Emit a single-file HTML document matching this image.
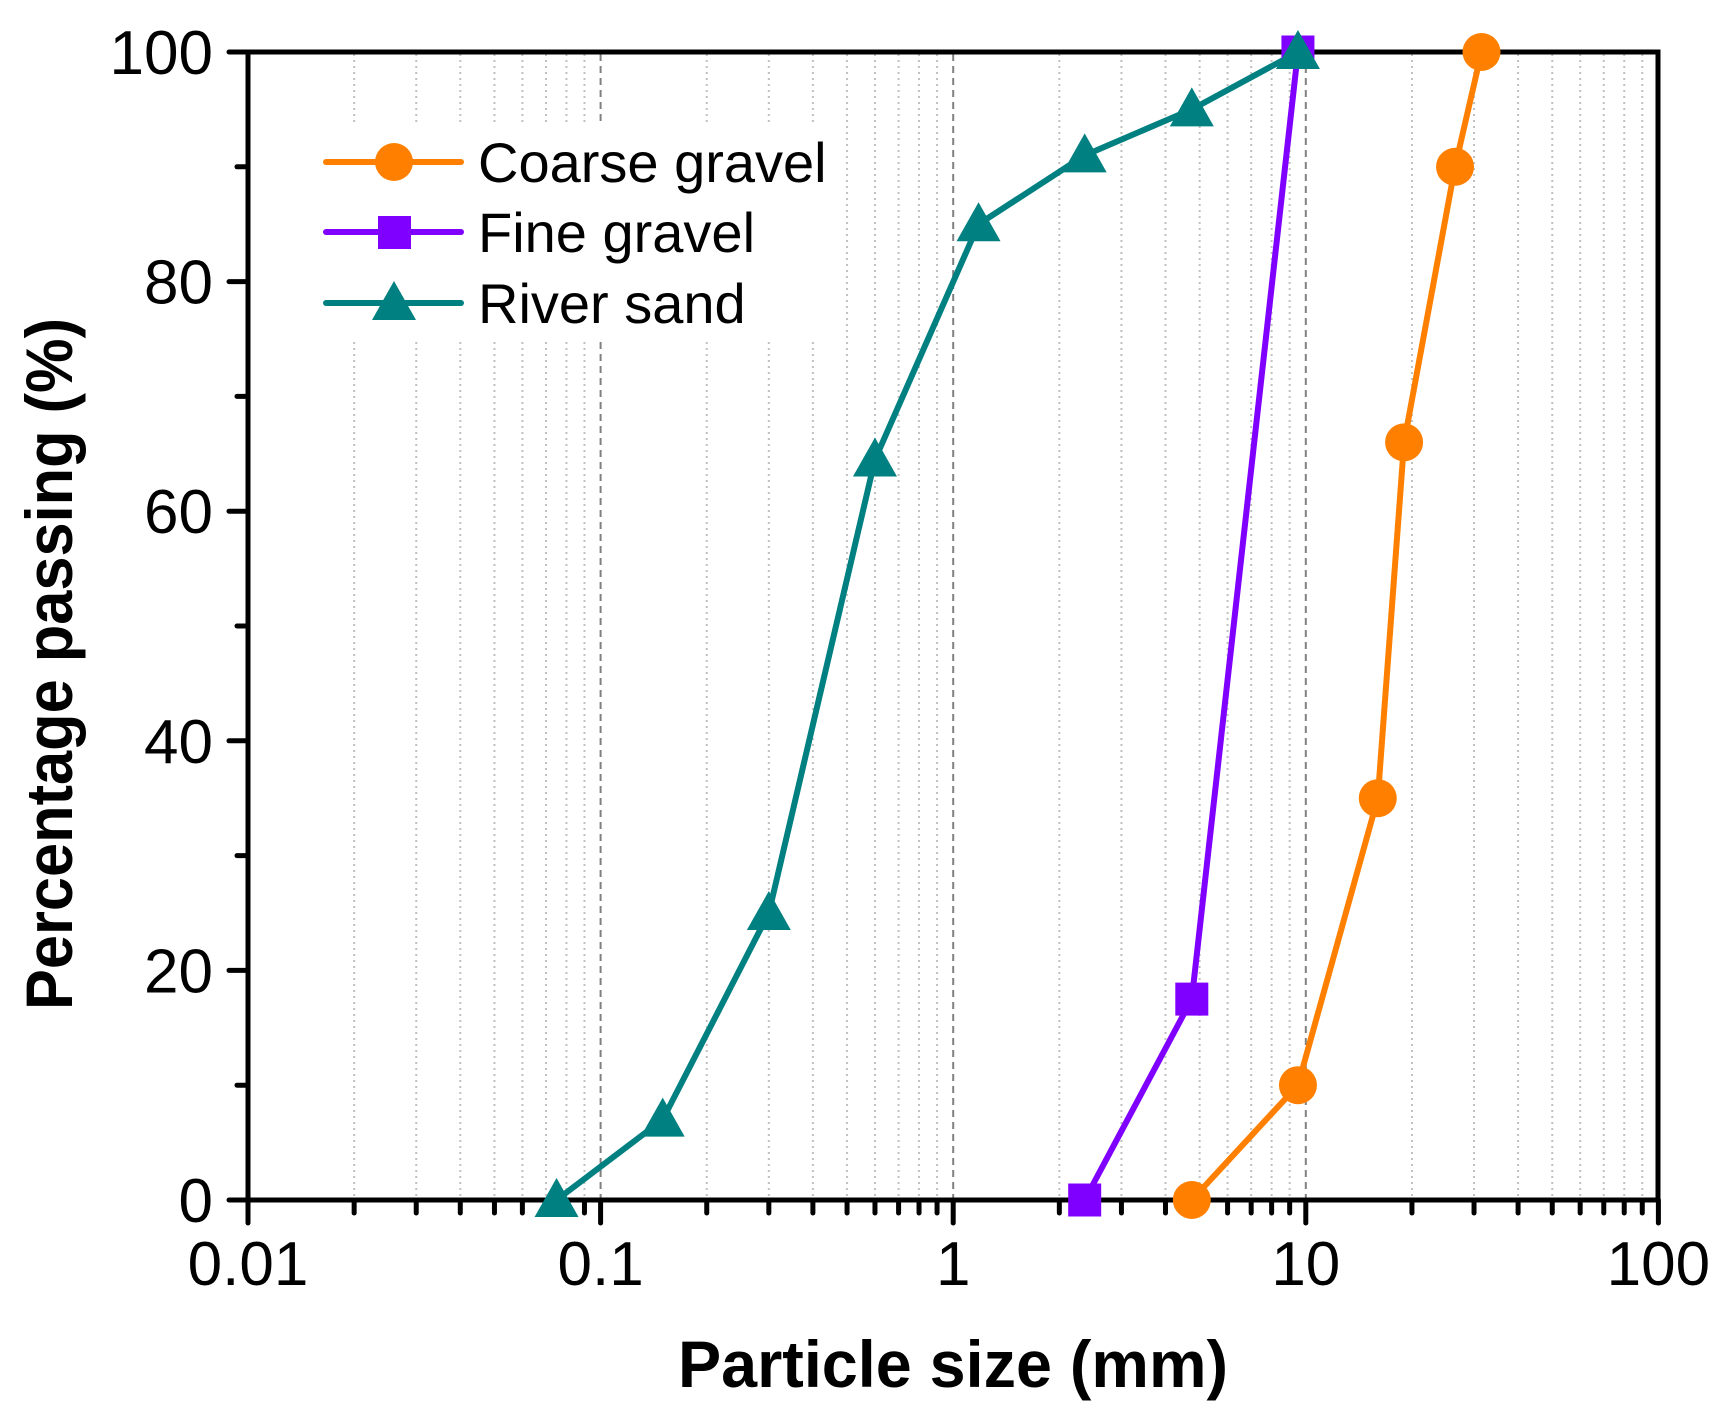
<!DOCTYPE html>
<html><head><meta charset="utf-8"><style>html,body{margin:0;padding:0;background:#fff}svg{display:block}</style></head>
<body>
<svg width="1724" height="1427" viewBox="0 0 1724 1427" xmlns="http://www.w3.org/2000/svg" font-family="Liberation Sans, Arial, sans-serif">
<rect width="1724" height="1427" fill="#fff"/>
<g id="grid"></g>
<rect x="322" y="122" width="520" height="216" fill="#fff"/>
<g id="axes"></g>
<g id="series"></g>
<g id="legend">
 <line x1="326" y1="162" x2="461" y2="162" stroke="#FF8000" stroke-width="6" stroke-linecap="round"/>
 <circle cx="394" cy="162" r="19" fill="#FF8000"/>
 <text x="478" y="182" font-size="56">Coarse gravel</text>
 <line x1="326" y1="232" x2="461" y2="232" stroke="#8000FF" stroke-width="6" stroke-linecap="round"/>
 <rect x="378" y="216" width="33" height="33" fill="#8000FF"/>
 <text x="478" y="252" font-size="56">Fine gravel</text>
 <line x1="326" y1="303" x2="461" y2="303" stroke="#008080" stroke-width="6" stroke-linecap="round"/>
 <polygon points="394,281 416,320 372,320" fill="#008080"/>
 <text x="478" y="323" font-size="56">River sand</text>
</g>
<text x="953" y="1387" font-size="66" font-weight="bold" text-anchor="middle" textLength="550" lengthAdjust="spacingAndGlyphs">Particle size (mm)</text>
<text transform="translate(72,664) rotate(-90)" font-size="66" font-weight="bold" text-anchor="middle" textLength="692" lengthAdjust="spacingAndGlyphs">Percentage passing (%)</text>
<script>
var NS="http://www.w3.org/2000/svg";
function X(v){return 248+352.6*(Math.log10(v)+2);}
function Y(p){return 1200-11.48*p;}
function el(g,t,a,txt){var e=document.createElementNS(NS,t);for(var k in a)e.setAttribute(k,a[k]);if(txt!==undefined)e.textContent=txt;document.getElementById(g).appendChild(e);return e;}
for(var d=-2;d<2;d++){for(var m=1;m<10;m++){var v=m*Math.pow(10,d);var x=X(v);
 if(m==1){if(d>-2)el("grid","line",{x1:x,y1:54,x2:x,y2:1198,stroke:"#808080","stroke-width":2,"stroke-dasharray":"7,5"});}
 else el("grid","line",{x1:x,y1:54,x2:x,y2:1198,stroke:"#c0c0c0","stroke-width":2,"stroke-dasharray":"2,4"});
}}
el("axes","rect",{x:248,y:52,width:1410,height:1148,fill:"none",stroke:"#000","stroke-width":5});
for(var d=-2;d<=2;d++){for(var m=1;m<10;m++){if(d==2&&m>1)break;var x=X(m*Math.pow(10,d));
 el("axes","line",{x1:x,y1:1200,x2:x,y2:m==1?1223:1213,stroke:"#000","stroke-width":5,"stroke-linecap":"round"});}}
var xl=["0.01","0.1","1","10","100"];
for(var i=0;i<5;i++)el("axes","text",{x:X(Math.pow(10,i-2)),y:1285,"font-size":62,"text-anchor":"middle"},xl[i]);
for(var p=0;p<=100;p+=10){var y=Y(p);
 el("axes","line",{x1:248,y1:y,x2:p%20==0?229:237,y2:y,stroke:"#000","stroke-width":5,"stroke-linecap":"round"});
 if(p%20==0)el("axes","text",{x:213,y:y+22,"font-size":62,"text-anchor":"end"},""+p);}
var sand=[[0.075,0],[0.15,7],[0.3,25],[0.6,64.5],[1.18,85],[2.36,91],[4.75,95],[9.5,100]];
var fine=[[2.36,0],[4.75,17.5],[9.5,100]];
var coarse=[[4.75,0],[9.5,10],[16,35],[19,66],[26.5,90],[31.5,100]];
function line(d,c){el("series","polyline",{points:d.map(function(q){return X(q[0])+","+Y(q[1]);}).join(" "),fill:"none",stroke:c,"stroke-width":6,"stroke-linejoin":"round"});}
line(coarse,"#FF8000");line(fine,"#8000FF");line(sand,"#008080");
coarse.forEach(function(q){el("series","circle",{cx:X(q[0]),cy:Y(q[1]),r:19,fill:"#FF8000"});});
fine.forEach(function(q){el("series","rect",{x:X(q[0])-16.5,y:Y(q[1])-16.5,width:33,height:33,fill:"#8000FF"});});
sand.forEach(function(q){var x=X(q[0]),y=Y(q[1]);el("series","polygon",{points:x+","+(y-22)+" "+(x+22)+","+(y+17)+" "+(x-22)+","+(y+17),fill:"#008080"});});
</script>
</svg>
</body></html>
